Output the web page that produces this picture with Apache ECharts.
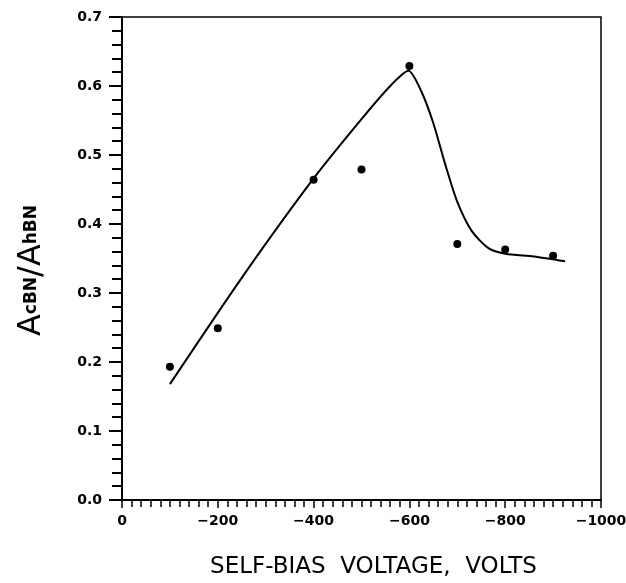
<!DOCTYPE html>
<html>
<head>
<meta charset="utf-8">
<script src="https://cdn.jsdelivr.net/npm/echarts@6/dist/echarts.min.js"></script>
<style>
    html, body { margin: 0; padding: 0; background: #fff; }
    #main { width: 626px; height: 583px; }
</style>
</head>
<body>
<div id="main"></div>
<script>
    // measured points
    var biasVolts = [-100, -200, -400, -500, -600, -700, -800, -900];
    var ratio = [0.193, 0.249, 0.464, 0.479, 0.629, 0.371, 0.363, 0.354];

    // fitted curve
    var curveVolts = [-100, -250, -400, -500, -560, -598, -625, -650, -675, -700, -730, -765, -800, -860, -925];
    var curveRatio = [0.168, 0.322, 0.466, 0.552, 0.600, 0.622, 0.592, 0.546, 0.486, 0.432, 0.390, 0.365, 0.357, 0.353, 0.346];

    var chartDom = document.getElementById('main');
    var myChart = echarts.init(chartDom);
    var option;

    var font = 'DejaVu Sans, Liberation Sans, sans-serif';

    option = {
        animation: false,
        grid: {
            left: 122,
            right: 25,
            top: 17,
            bottom: 83,
            outerBoundsMode: 'none',
            show: true,
            borderColor: '#000',
            borderWidth: 1.5
        },
        xAxis: {
            type: 'value',
            min: -1000,
            max: 0,
            interval: 200,
            inverse: true,
            name: 'SELF-BIAS  VOLTAGE,  VOLTS',
            nameLocation: 'middle',
            nameGap: 56,
            nameTextStyle: { color: '#000', fontSize: 23, fontFamily: font, padding: [0, 0, 0, 24] },
            axisLine: { lineStyle: { color: '#000', width: 2 } },
            axisTick: { show: true, inside: false, length: 8, lineStyle: { color: '#000', width: 1.5 } },
            minorTick: { show: true, splitNumber: 10, length: 7, lineStyle: { color: '#000', width: 1.5 } },
            splitLine: { show: false },
            axisLabel: {
                color: '#000', fontSize: 14, fontWeight: 'bold', fontFamily: font, margin: 14,
                formatter: function (v) { return v < 0 ? '\u2212' + Math.abs(v) : String(v); }
            }
        },
        yAxis: {
            type: 'value',
            min: 0,
            max: 0.7,
            interval: 0.1,
            name: 'A{sub|cBN}/A{sub|hBN}',
            nameLocation: 'middle',
            nameGap: 74,
            nameTextStyle: {
                color: '#000', fontSize: 32, fontFamily: font,
                padding: [0, 24, 0, 0],
                rich: { sub: { fontSize: 17, fontWeight: 'bold', fontFamily: font, color: '#000' } }
            },
            axisLine: { lineStyle: { color: '#000', width: 2 } },
            axisTick: { show: true, inside: false, length: 13, lineStyle: { color: '#000', width: 2 } },
            minorTick: { show: true, splitNumber: 5, length: 10, lineStyle: { color: '#000', width: 2 } },
            splitLine: { show: false },
            axisLabel: {
                color: '#000', fontSize: 14, fontWeight: 'bold', fontFamily: font, margin: 20,
                formatter: function (v) { return v.toFixed(1); }
            }
        },
        series: [
            {
                type: 'line',
                data: curveVolts.map(function (x, i) { return [x, curveRatio[i]]; }),
                smooth: 0.25,
                showSymbol: false,
                lineStyle: { color: '#000', width: 2 }
            },
            {
                type: 'scatter',
                data: biasVolts.map(function (x, i) { return [x, ratio[i]]; }),
                symbolSize: 8,
                itemStyle: { color: '#000', opacity: 1 }
            }
        ]
    };

    option && myChart.setOption(option);
</script>
</body>
</html>
